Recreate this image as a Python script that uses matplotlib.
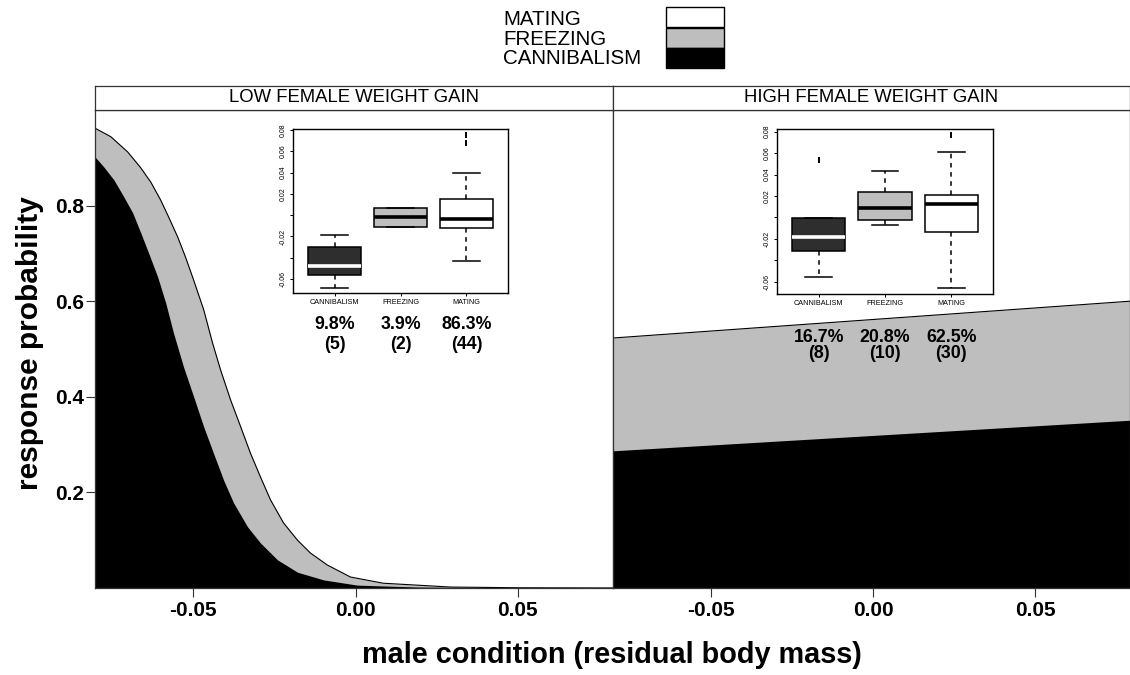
import numpy as np
import matplotlib.pyplot as plt
import matplotlib.transforms as mtransforms
from matplotlib.patches import Rectangle

plt.rcParams['font.family'] = ['Liberation Sans', 'DejaVu Sans']
plt.rcParams['axes.unicode_minus'] = False

# low female weight gain: upper edge of the grey (cannibalism+freezing) band
low_grey_x = [-0.0803, -0.0754, -0.0702, -0.0662, -0.0631, -0.0601, -0.0576, -0.0548,
              -0.0524, -0.0499, -0.0468, -0.0441, -0.0416, -0.0385, -0.0354, -0.0324,
              -0.0293, -0.0262, -0.0222, -0.0179, -0.0139, -0.0087, -0.0016, 0.0085,
              0.0292, 0.0500, 0.0793]
low_grey_y = [0.962, 0.944, 0.912, 0.879, 0.849, 0.812, 0.776, 0.734,
              0.692, 0.644, 0.582, 0.513, 0.456, 0.393, 0.337, 0.282,
              0.232, 0.184, 0.136, 0.100, 0.073, 0.048, 0.023, 0.010,
              0.002, 0.0005, 0.0001]
# upper edge of the black (cannibalism) band
low_black_x = [-0.0803, -0.0776, -0.0745, -0.0714, -0.0687, -0.0662, -0.0638, -0.0610,
               -0.0585, -0.0561, -0.0530, -0.0499, -0.0468, -0.0438, -0.0407, -0.0376,
               -0.0333, -0.0293, -0.0241, -0.0179, -0.0099, 0.0005, 0.0190, 0.0500, 0.0793]
low_black_y = [0.902, 0.881, 0.854, 0.818, 0.785, 0.743, 0.701, 0.651,
               0.596, 0.533, 0.462, 0.400, 0.337, 0.282, 0.226, 0.178,
               0.128, 0.094, 0.059, 0.033, 0.017, 0.006, 0.002, 0.0003, 0.0001]

# high female weight gain: straight edges
high_x = [-0.0803, 0.0793]
high_black_y = [0.287, 0.351]
high_grey_y = [0.523, 0.600]

categories = ['CANNIBALISM', 'FREEZING', 'MATING']
low_pct = ['9.8%', '3.9%', '86.3%']
low_n = [5, 2, 44]
high_pct = ['16.7%', '20.8%', '62.5%']
high_n = [8, 10, 30]

# inset boxplots: whisker low, q1, median, q3, whisker high
low_box = [[-0.0684, -0.0566, -0.0478, -0.0300, -0.0190],
           [-0.0113, -0.0113, -0.0019, 0.0072, 0.0072],
           [-0.0431, -0.0122, -0.0040, 0.0150, 0.0397]]
low_out = [[], [], [0.0753, 0.0675]]
high_box = [[-0.0553, -0.0313, -0.0180, -0.0002, -0.0002],
            [-0.0071, -0.0024, 0.0085, 0.0240, 0.0436],
            [-0.0662, -0.0133, 0.0122, 0.0212, 0.0613]]
high_out = [[0.0536], [], [0.0769]]

GREY = '#bebebe'
BOX_COLORS = ['#2e2e2e', GREY, 'white']
W, H = 1130, 675


def px_box(x0, y0, x1, y1):
    return [x0 / W, 1 - y1 / H, (x1 - x0) / W, (y1 - y0) / H]


fig = plt.figure(figsize=(11.3, 6.75), dpi=100)

ax_low = fig.add_axes(px_box(95, 110, 613, 588))
ax_high = fig.add_axes(px_box(613, 110, 1130, 588))

ax_low.fill_between(low_grey_x, low_grey_y, 0, color=GREY, lw=0)
ax_low.plot(low_grey_x, low_grey_y, color='black', lw=0.8)
ax_low.fill_between(low_black_x, low_black_y, 0, color='black', lw=0)

ax_high.fill_between(high_x, high_grey_y, 0, color=GREY, lw=0)
ax_high.plot(high_x, high_grey_y, color='black', lw=0.8)
ax_high.fill_between(high_x, high_black_y, 0, color='black', lw=0)

for ax in (ax_low, ax_high):
    ax.set_xlim(-0.0803, 0.0793)
    ax.set_ylim(0, 1)
    ax.set_xticks([-0.05, 0.0, 0.05])
    ax.set_xticklabels(['-0.05', '0.00', '0.05'], fontsize=15, fontweight='bold')
    ax.tick_params(axis='x', length=6.5, width=0.8, pad=3, color='#333333')
    for s in ax.spines.values():
        s.set_linewidth(0.9)
        s.set_color('#333333')
ax_low.set_yticks([0.2, 0.4, 0.6, 0.8])
ax_low.set_yticklabels(['0.2', '0.4', '0.6', '0.8'], fontsize=15, fontweight='bold')
ax_low.tick_params(axis='y', length=6.5, width=0.8, pad=1.5, color='#333333')
ax_high.set_yticks([])

# strip headers
for (x0, x1), title in [((95, 613), 'LOW FEMALE WEIGHT GAIN'),
                        ((613, 1130), 'HIGH FEMALE WEIGHT GAIN')]:
    st = fig.add_axes(px_box(x0, 86, x1, 110))
    st.set_xticks([])
    st.set_yticks([])
    for s in st.spines.values():
        s.set_linewidth(0.9)
        s.set_color('#333333')
    st.text(0.5, 0.5, title, ha='center', va='center', fontsize=13.3, transform=st.transAxes)


def draw_inset(rect, boxes, outliers, pct, counts, ylim, pct_y, n_y):
    ax = fig.add_axes(rect)
    stats = [dict(whislo=b[0], q1=b[1], med=b[2], q3=b[3], whishi=b[4], fliers=o)
             for b, o in zip(boxes, outliers)]
    art = ax.bxp(stats, positions=[1, 2, 3], widths=0.8, capwidths=0.4, patch_artist=True,
                 boxprops=dict(edgecolor='black', linewidth=1.1),
                 whiskerprops=dict(linestyle=(0, (3, 3)), linewidth=1.1),
                 capprops=dict(linewidth=1.1),
                 medianprops=dict(linewidth=2.6, color='black', solid_capstyle='butt'),
                 flierprops=dict(marker='|', markersize=4, markeredgewidth=1.4,
                                 markeredgecolor='black'))
    for patch, fc in zip(art['boxes'], BOX_COLORS):
        patch.set_facecolor(fc)
    art['medians'][0].set_color('white')
    ax.set_xlim(0.37, 3.63)
    ax.set_ylim(*ylim)
    yt = [-0.06, -0.04, -0.02, 0.0, 0.02, 0.04, 0.06, 0.08]
    ax.set_yticks(yt)
    ax.set_yticklabels(['-0.06', '', '-0.02', '', '0.02', '0.04', '0.06', '0.08'],
                       fontsize=5, rotation=90, va='center')
    ax.set_xticks([1, 2, 3])
    ax.set_xticklabels(categories, fontsize=5.2)
    ax.tick_params(length=2.5, width=0.7, pad=2)
    for s in ax.spines.values():
        s.set_linewidth(1.0)
    tr = mtransforms.blended_transform_factory(ax.transData, ax.transAxes)
    for i, (p, n) in enumerate(zip(pct, counts)):
        ax.text(i + 1, pct_y, p, transform=tr, ha='center', va='center',
                fontsize=12.8, fontweight='bold')
        ax.text(i + 1, n_y, '(%d)' % n, transform=tr, ha='center', va='center',
                fontsize=12.8, fontweight='bold')


draw_inset(px_box(293, 129, 508, 293), low_box, low_out, low_pct, low_n,
           (-0.0731, 0.0810), -0.195, -0.311)
draw_inset(px_box(777, 129, 993, 294), high_box, high_out, high_pct, high_n,
           (-0.0715, 0.0825), -0.261, -0.358)

# legend at top
lg = fig.add_axes([0, 0, 1, 1])
lg.set_xlim(0, W)
lg.set_ylim(H, 0)
lg.axis('off')
for label, base, fc, y0 in [('MATING', 25, 'white', 7),
                            ('FREEZING', 45, GREY, 28),
                            ('CANNIBALISM', 64, 'black', 48)]:
    lg.text(503, base, label, fontsize=14.8, ha='left', va='baseline')
    lg.add_patch(Rectangle((666, y0), 58, 20, facecolor=fc,
                           edgecolor='black', linewidth=1.0))

fig.text(30 / W, 1 - 343 / H, 'response probability', rotation=90, ha='center',
         va='center', fontsize=21.5, fontweight='bold')
fig.text(612 / W, 1 - 655 / H, 'male condition (residual body mass)', ha='center',
         va='center', fontsize=20.8, fontweight='bold')

fig.savefig('out.png', dpi=100)
